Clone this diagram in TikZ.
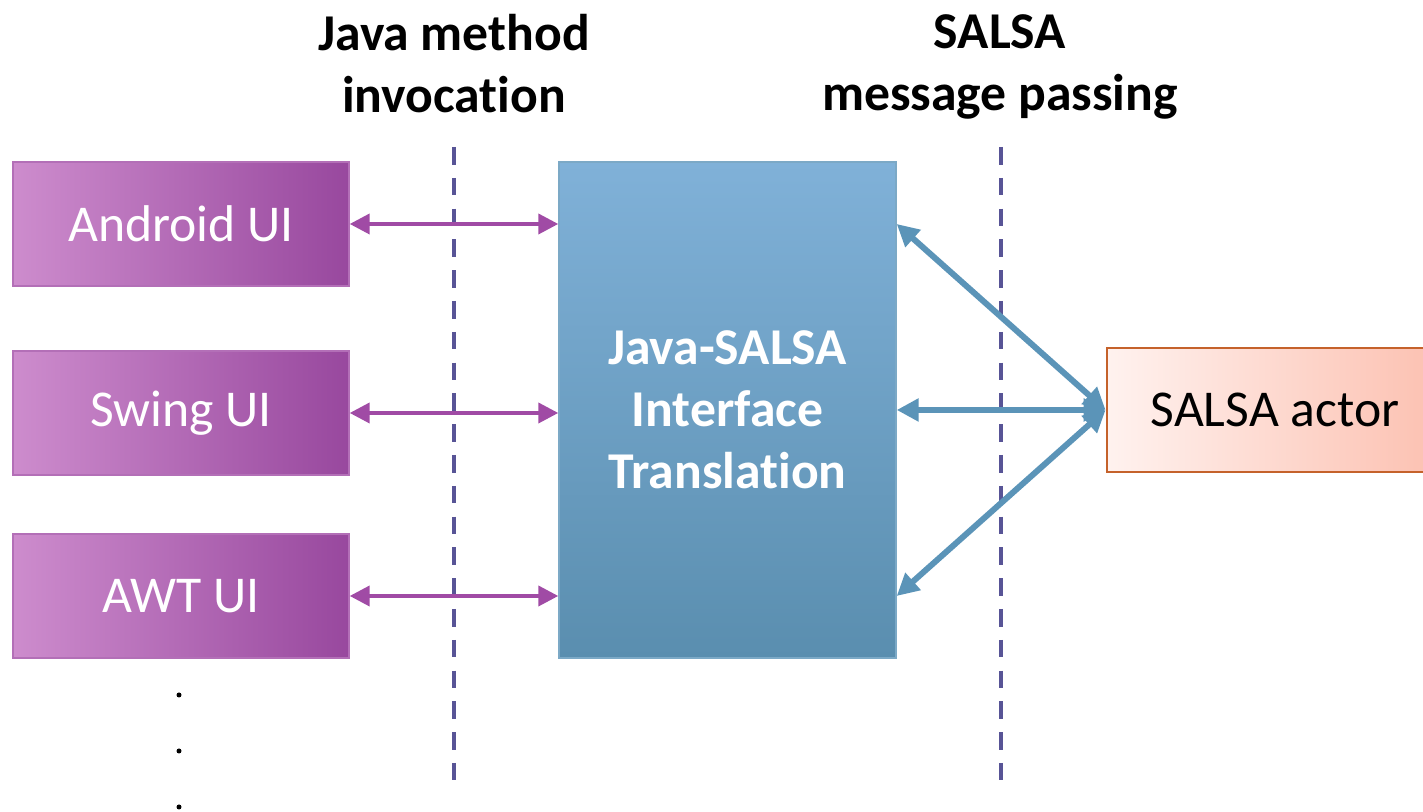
\documentclass[tikz,border=0pt]{standalone}
\usepackage{fontspec}
\setmainfont[Ligatures=NoCommon, Contextuals=NoAlternate, RawFeature={-liga;-clig;-calt;-dlig}]{Carlito}
\usetikzlibrary{arrows.meta}
\definecolor{uipurple}{RGB}{160,75,165}
\definecolor{msgblue}{RGB}{91,148,184}
\definecolor{sepblue}{RGB}{88,84,150}
\definecolor{actorline}{RGB}{197,98,43}
\begin{document}
\begin{tikzpicture}[
  uibox/.style={draw=uipurple!80, line width=0.4pt, left color={rgb,255:red,205;green,140;blue,205},
    right color={rgb,255:red,152;green,72;blue,158}, minimum width=3.36cm, minimum height=1.24cm,
    text=white, font=\fontsize{14.7}{17.9}\selectfont},
  transbox/.style={draw=msgblue!80, line width=0.4pt, top color={rgb,255:red,128;green,177;blue,216},
    bottom color={rgb,255:red,90;green,142;blue,175}, minimum width=3.37cm, minimum height=4.96cm,
    text=white, align=center, font=\fontsize{14.7}{17.7}\selectfont\bfseries},
  actorbox/.style={draw=actorline, line width=0.8pt, left color={rgb,255:red,255;green,242;blue,239},
    right color={rgb,255:red,252;green,192;blue,176}, minimum width=3.36cm, minimum height=1.24cm,
    font=\fontsize{14.7}{17.9}\selectfont},
  heading/.style={align=center, anchor=north, font=\fontsize{14.7}{17.7}\selectfont\bfseries},
  callarrow/.style={uipurple, line width=1.1pt, {Triangle[length=0.2cm,width=0.2cm]}-{Triangle[length=0.2cm,width=0.2cm]}},
  msgarrow/.style={msgblue, line width=1.7pt, {Triangle[length=0.22cm,width=0.22cm]}-{Triangle[length=0.22cm,width=0.22cm]}},
  sepline/.style={sepblue, line width=1.2pt, dash pattern=on 0.176cm off 0.132cm}]
\useasboundingbox (0,0) rectangle (14.23,8.12);
% separators
\draw[sepline] (4.54,6.65) -- (4.54,0.32);
\draw[sepline] (10.01,6.65) -- (10.01,0.32);
\node[heading] (javahead) at (4.54,8.10) {Java method\\invocation};
\node[heading] (salsahead) at (10.0,8.10) {SALSA\\message passing};
% boxes
\node[uibox] (android) at (1.81,5.88) {Android UI};
\node[uibox] (swing) at (1.81,3.99) {Swing UI};
\node[uibox] (awt) at (1.81,2.16) {AWT UI};
\node[transbox] (trans) at (7.275,4.02) {Java-SALSA\\Interface\\Translation};
\node[actorbox] (actor) at (12.75,4.02) {SALSA actor};
% arrows
\draw[callarrow] (android.east) -- (android.east -| trans.west);
\draw[callarrow] (swing.east) -- (swing.east -| trans.west);
\draw[callarrow] (awt.east) -- (awt.east -| trans.west);
\draw[msgarrow] (actor.west) -- (android.east -| trans.east);
\draw[msgarrow] (actor.west) -- (trans.east);
\draw[msgarrow] (actor.west) -- (awt.east -| trans.east);
% dots
\fill (1.79,1.17) circle (0.025);
\fill (1.79,0.61) circle (0.025);
\fill (1.79,0.05) circle (0.025);
\end{tikzpicture}
\end{document}
